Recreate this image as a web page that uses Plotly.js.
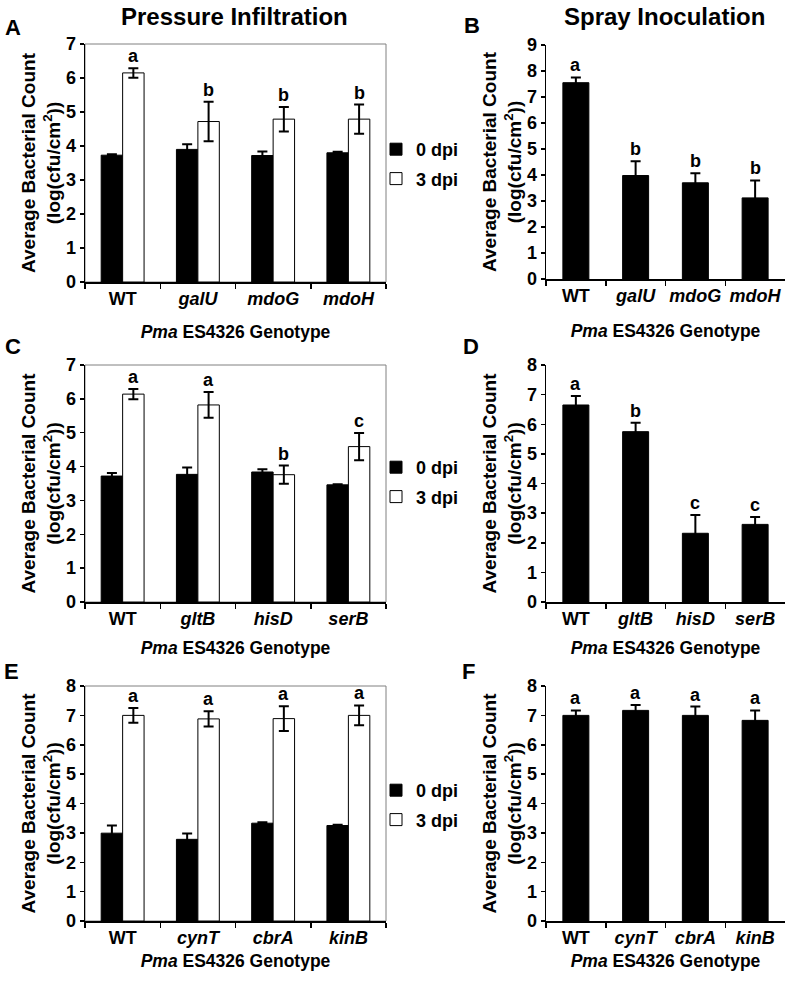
<!DOCTYPE html>
<html>
<head>
<meta charset="utf-8">
<script src="https://cdn.plot.ly/plotly-3.0.1.min.js"></script>
<style>html,body{margin:0;padding:0;background:#fff;}#chart{width:790px;height:983px;}</style>
</head>
<body>
<div id="chart"></div>
<script>
// ---------- DATA ----------
const catsA = ['WT', 'galU', 'mdoG', 'mdoH'];
const a0 = [3.73, 3.90, 3.72, 3.80];
const a0err = [0.03, 0.15, 0.12, 0.03];
const a3 = [6.15, 4.72, 4.79, 4.79];
const a3err = [0.14, 0.58, 0.36, 0.43];
const lettersA = ['a', 'b', 'b', 'b'];

const catsB = ['WT', 'galU', 'mdoG', 'mdoH'];
const b0 = [7.55, 3.98, 3.70, 3.12];
const b0err = [0.20, 0.55, 0.37, 0.67];
const lettersB = ['a', 'b', 'b', 'b'];

const catsC = ['WT', 'gltB', 'hisD', 'serB'];
const c0 = [3.72, 3.77, 3.84, 3.46];
const c0err = [0.09, 0.20, 0.08, 0.02];
const c3 = [6.14, 5.82, 3.76, 4.59];
const c3err = [0.15, 0.38, 0.27, 0.40];
const lettersC = ['a', 'a', 'b', 'c'];

const catsD = ['WT', 'gltB', 'hisD', 'serB'];
const d0 = [6.65, 5.75, 2.32, 2.62];
const d0err = [0.30, 0.30, 0.62, 0.25];
const lettersD = ['a', 'b', 'c', 'c'];

const catsE = ['WT', 'cynT', 'cbrA', 'kinB'];
const e0 = [2.99, 2.78, 3.33, 3.25];
const e0err = [0.26, 0.20, 0.03, 0.03];
const e3 = [7.00, 6.88, 6.89, 7.00];
const e3err = [0.25, 0.26, 0.42, 0.34];
const lettersE = ['a', 'a', 'a', 'a'];

const catsF = ['WT', 'cynT', 'cbrA', 'kinB'];
const f0 = [7.00, 7.17, 7.00, 6.83];
const f0err = [0.17, 0.18, 0.30, 0.34];
const lettersF = ['a', 'a', 'a', 'a'];

const seriesNames = ['0 dpi', '3 dpi'];
const panelTitles = ['Pressure Infiltration', 'Spray Inoculation'];
const panelLetters = ['A', 'B', 'C', 'D', 'E', 'F'];
const yTitle = 'Average Bacterial Count<br>(log(cfu/cm<sup>2</sup>))';
const xTitle = '<i>Pma</i> ES4326 Genotype';

// ---------- STYLE ----------
const FONT = '"Liberation Sans", Arial, sans-serif';
const W = 790, H = 983;
const BARGAP = 0.43;
const SINGLE_WIDTH = 0.435;
const font = (size, extra) => Object.assign({family: FONT, size: size, color: '#000', weight: 700}, extra || {});
const label = c => (c === 'WT' ? c : '<i>' + c + '</i>');
const px = v => v / W;
const py = v => 1 - v / H;

const data = [];
const annotations = [];
const shapes = [];
const layout = {
  width: W, height: H,
  margin: {l: 0, r: 0, t: 0, b: 0},
  paper_bgcolor: '#fff', plot_bgcolor: 'rgba(0,0,0,0)',
  barmode: 'group', bargap: BARGAP, bargroupgap: 0,
  showlegend: true,
  font: font(18),
  annotations: annotations,
  shapes: shapes
};

// panel geometry (pixels)
const panels = [
  {id: 1, cats: catsA, s0: a0, e0: a0err, s3: a3, e3: a3err, letters: lettersA, ymax: 7, x0: 85, x1: 386, y0: 44, y1: 282, legend: 'legend', box: true, xstand: 17},
  {id: 2, cats: catsB, s0: b0, e0: b0err, letters: lettersB, ymax: 9, x0: 546, x1: 785, y0: 45, y1: 279, box: false, xstand: 19},
  {id: 3, cats: catsC, s0: c0, e0: c0err, s3: c3, e3: c3err, letters: lettersC, ymax: 7, x0: 85, x1: 386, y0: 365, y1: 602, legend: 'legend2', box: true, xstand: 13},
  {id: 4, cats: catsD, s0: d0, e0: d0err, letters: lettersD, ymax: 8, x0: 546, x1: 785, y0: 365, y1: 602, box: false, xstand: 13},
  {id: 5, cats: catsE, s0: e0, e0: e0err, s3: e3, e3: e3err, letters: lettersE, ymax: 8, x0: 85, x1: 386, y0: 686, y1: 921, legend: 'legend3', box: true, xstand: 7},
  {id: 6, cats: catsF, s0: f0, e0: f0err, letters: lettersF, ymax: 8, x0: 546, x1: 785, y0: 686, y1: 921, box: false, xstand: 7}
];

panels.forEach(p => {
  const xa = p.id === 1 ? 'x' : 'x' + p.id;
  const ya = p.id === 1 ? 'y' : 'y' + p.id;
  const xl = p.id === 1 ? 'xaxis' : 'xaxis' + p.id;
  const yl = p.id === 1 ? 'yaxis' : 'yaxis' + p.id;
  const xs = p.cats.map(label);
  const grouped = !!p.s3;

  const t0 = {
    type: 'bar', x: xs, y: p.s0, xaxis: xa, yaxis: ya, name: seriesNames[0],
    marker: {color: '#000', line: {color: '#000', width: 1}},
    error_y: {type: 'data', array: p.e0, visible: true, color: '#000', thickness: 2, width: 5},
    showlegend: grouped, legendgroup: 'g0'
  };
  if (grouped) t0.legend = p.legend; else t0.width = SINGLE_WIDTH;
  data.push(t0);
  if (grouped) {
    data.push({
      type: 'bar', x: xs, y: p.s3, xaxis: xa, yaxis: ya, name: seriesNames[1],
      marker: {color: '#fff', line: {color: '#000', width: 1}},
      error_y: {type: 'data', array: p.e3, visible: true, color: '#000', thickness: 2, width: 5},
      showlegend: true, legendgroup: 'g1', legend: p.legend
    });
  }

  layout[xl] = {
    domain: [px(p.x0), px(p.x1)], anchor: ya, type: 'category',
    showline: true, linecolor: '#000', linewidth: 1.5,
    ticks: 'outside', ticklen: 5, tickwidth: 1.5, tickcolor: '#000', tickson: 'boundaries',
    tickangle: 0,
    showgrid: false, zeroline: false, tickfont: font(18), fixedrange: true,
    title: {text: xTitle, font: font(17.5), standoff: p.xstand}
  };
  layout[yl] = {
    domain: [py(p.y1), py(p.y0)], anchor: xa, range: [0, p.ymax], dtick: 1, tick0: 0,
    showline: true, linecolor: '#000', linewidth: 1.5,
    ticks: 'outside', ticklen: 4, tickwidth: 1.5, tickcolor: '#000',
    showgrid: false, zeroline: false, tickfont: font(18), fixedrange: true,
    title: {text: yTitle, font: font(19), standoff: 0}
  };
  if (p.box) {
    shapes.push({type: 'rect', xref: xa + ' domain', yref: ya + ' domain', x0: 0, x1: 1, y0: 0, y1: 1,
      line: {color: '#808080', width: 1}, layer: 'below'});
  }
  // significance letters above the 3 dpi bar (grouped) or the single bar
  const dx = grouped ? (1 - BARGAP) / 4 : 0;
  const tops = grouped ? p.s3.map((v, i) => v + p.e3[i]) : p.s0.map((v, i) => v + p.e0[i]);
  p.letters.forEach((L, i) => {
    annotations.push({xref: xa, yref: ya, x: i + dx, y: tops[i], text: L, showarrow: false,
      xanchor: 'center', yanchor: 'bottom', yshift: 0, font: font(18)});
  });
  // panel letter
  const letterPos = {1: [13, 27], 2: [472, 26], 3: [13, 346], 4: [471, 347], 5: [11, 671], 6: [468, 671]}[p.id];
  annotations.push({xref: 'paper', yref: 'paper', x: px(letterPos[0]), y: py(letterPos[1]), text: panelLetters[p.id - 1],
    showarrow: false, xanchor: 'center', yanchor: 'middle', font: font(22)});
});

// column titles
annotations.push({xref: 'paper', yref: 'paper', x: px(234), y: py(16), text: panelTitles[0], showarrow: false,
  xanchor: 'center', yanchor: 'middle', font: font(24)});
annotations.push({xref: 'paper', yref: 'paper', x: px(664), y: py(16), text: panelTitles[1], showarrow: false,
  xanchor: 'center', yanchor: 'middle', font: font(24)});

const legendBase = {xanchor: 'left', yanchor: 'top', bgcolor: 'rgba(0,0,0,0)', borderwidth: 0,
  font: font(18), traceorder: 'grouped', tracegroupgap: 3, itemclick: false, itemdoubleclick: false};
layout.legend = Object.assign({}, legendBase, {x: px(376), y: py(131)});
layout.legend2 = Object.assign({}, legendBase, {x: px(376), y: py(449)});
layout.legend3 = Object.assign({}, legendBase, {x: px(376), y: py(772)});

Plotly.newPlot('chart', data, layout, {staticPlot: true, displayModeBar: false});
</script>
</body>
</html>
